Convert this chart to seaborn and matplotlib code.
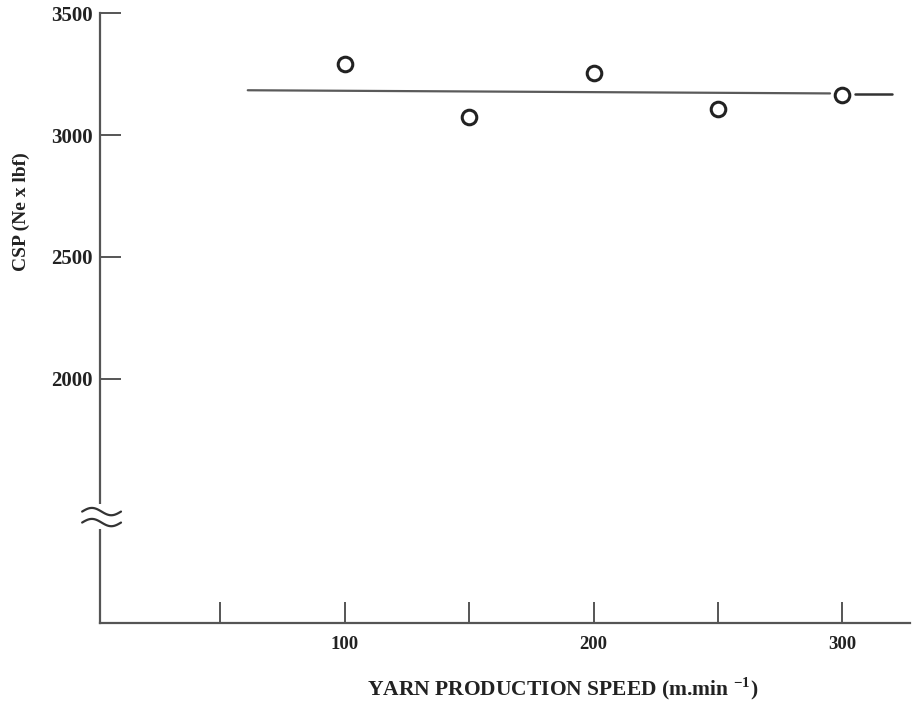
import numpy as np
import matplotlib
matplotlib.use("Agg")
import matplotlib.pyplot as plt
import seaborn as sns
import pandas as pd

# Data
speed = [100, 150, 200, 250, 300]
csp = [3290, 3073, 3253, 3105, 3163]
fit_x_a = [61, 295]
fit_y_a = [3184, 3171]
fit_x_b = [305, 320]
fit_y_b = [3170, 3170]
xticks = [50, 100, 150, 200, 250, 300]
xticklabels = ["", "100", "", "200", "", "300"]
yticks = [2000, 2500, 3000, 3500]
yticklabels = ["2000", "2500", "3000", "3500"]

sns.set_theme(style="white")
plt.rcParams['font.family'] = ['Liberation Serif', 'DejaVu Serif']

fig = plt.figure(figsize=(9.17, 7.01), dpi=100)
ax = fig.add_axes([0.109, 0.111, 0.883, 0.870])

axis_col = "#555555"
ink = "#222222"

df_pts = pd.DataFrame({"speed": speed, "csp": csp})
sns.lineplot(x=fit_x_a, y=fit_y_a, ax=ax, color="#5a5a5a", lw=1.6)
sns.lineplot(x=fit_x_b, y=fit_y_b, ax=ax, color="#333333", lw=1.8)
sns.scatterplot(data=df_pts, x="speed", y="csp", ax=ax, marker="o", s=110,
                facecolor="white", edgecolor=ink, linewidth=2.2, zorder=5)

ax.set_xlim(1.6, 327)
ax.set_ylim(995, 3500)

for s in ["top", "right"]:
    ax.spines[s].set_visible(False)
for s in ["left", "bottom"]:
    ax.spines[s].set_color(axis_col)
    ax.spines[s].set_linewidth(1.6)

ax.set_xticks(xticks)
ax.set_xticklabels(xticklabels)
ax.set_yticks(yticks)
ax.set_yticklabels(yticklabels)
ax.tick_params(axis="x", direction="in", length=15, width=1.4, color=axis_col,
               pad=9, labelsize=13.5, bottom=True)
ax.tick_params(axis="y", direction="in", length=15, width=1.4, color=axis_col,
               pad=5, labelsize=15, left=True)
for lab in ax.get_xticklabels() + ax.get_yticklabels():
    lab.set_fontweight("bold")
    lab.set_color("#222222")

ax.set_xlabel("YARN PRODUCTION SPEED (m.min $^{\\mathregular{-1}}$)", fontsize=15.5,
              fontweight="bold", color="#222222")
ax.xaxis.set_label_coords(0.572, -0.086)
ax.set_ylabel("CSP (Ne x lbf)", fontsize=14, fontweight="bold", color="#222222")
ax.yaxis.set_label_coords(-0.086, 0.675)

# axis break marks
ax.add_patch(plt.Rectangle((-0.01, 0.155), 0.02, 0.04, transform=ax.transAxes,
                           facecolor="white", edgecolor="none", clip_on=False, zorder=6))
t = np.linspace(-1, 1, 40)
for yc in [0.183, 0.165]:
    ax.plot(0.002 + t * 0.024, yc + 0.006 * np.sin(t * np.pi + np.pi), transform=ax.transAxes,
            color="#333333", lw=1.6, clip_on=False, zorder=7)

fig.savefig("out.png", dpi=100)
